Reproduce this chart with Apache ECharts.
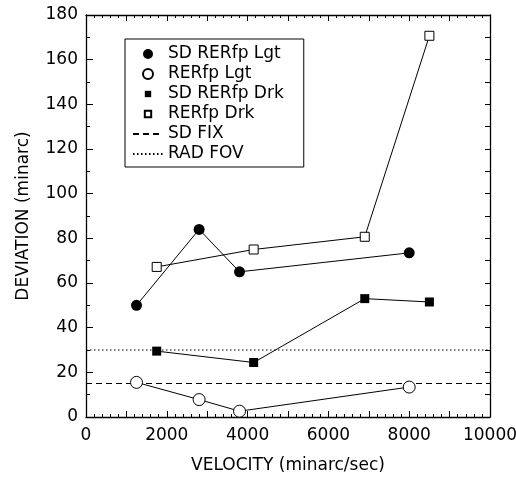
<!DOCTYPE html>
<html>
<head>
<meta charset="utf-8">
<script src="https://cdn.jsdelivr.net/npm/echarts@6/dist/echarts.min.js"></script>
<style>
html,body{margin:0;padding:0;background:#fff;}
#chart{width:516px;height:477px;}
</style>
</head>
<body>
<div id="chart"></div>
<script>
// ---- data ----
var sdRerfpLgtX = [1250, 2800, 3800, 8000];
var sdRerfpLgtY = [50, 84, 65, 73.5];
var rerfpLgtX = [1250, 2800, 3800, 8000];
var rerfpLgtY = [15.5, 7.8, 2.6, 13.4];
var sdRerfpDrkX = [1750, 4150, 6900, 8500];
var sdRerfpDrkY = [29.5, 24.4, 53, 51.5];
var rerfpDrkX = [1750, 4150, 6900, 8500];
var rerfpDrkY = [67.2, 75, 80.7, 170.7];
var sdFixY = 15;
var radFovY = 30;
var xRange = [0, 10000];
var yRange = [0, 180];
var xLabelStep = 2000;
var seriesNames = ['SD RERfp Lgt', 'RERfp Lgt', 'SD RERfp Drk', 'RERfp Drk', 'SD FIX', 'RAD FOV'];

function pairs(xs, ys) { return xs.map(function (x, i) { return [x, ys[i]]; }); }

var FONT = 'DejaVu Sans';
var chart = echarts.init(document.getElementById('chart'), null, {renderer: 'canvas'});
var sqIcon = 'path://M-2,-2L-2,-2M0,0L7,0L7,7L0,7ZM9,9L9,9';

var option = {
  animation: false,
  backgroundColor: '#fff',
  textStyle: {fontFamily: FONT, color: '#000'},
  grid: {left: 86, right: 26, top: 15, bottom: 60, containLabel: false, outerBoundsMode: 'none'},
  legend: {
    orient: 'vertical',
    left: 125, top: 39,
    padding: [5, 20, 3, 7],
    itemGap: 0,
    itemWidth: 30,
    itemHeight: 10,
    borderColor: '#000', borderWidth: 1,
    backgroundColor: '#fff',
    selectedMode: false,
    textStyle: {fontFamily: FONT, fontSize: 17, color: '#000', lineHeight: 20},
    data: [
      {name: seriesNames[0], icon: 'circle'},
      {name: seriesNames[1], icon: 'circle'},
      {name: seriesNames[2], icon: sqIcon},
      {name: seriesNames[3], icon: sqIcon},
      {name: seriesNames[4]},
      {name: seriesNames[5]}
    ]
  },
  xAxis: [{
    type: 'value', min: xRange[0], max: xRange[1], interval: 1000, position: 'bottom',
    name: 'VELOCITY (minarc/sec)', nameLocation: 'middle', nameGap: 40,
    nameTextStyle: {fontFamily: FONT, fontSize: 17, color: '#000'},
    axisLine: {show: true, onZero: false, lineStyle: {color: '#000', width: 1.3}},
    axisTick: {show: true, inside: true, length: 6, lineStyle: {color: '#000', width: 1}},
    minorTick: {show: true, splitNumber: 5, length: 3, lineStyle: {color: '#000', width: 1}},
    axisLabel: {margin: 10, fontFamily: FONT, fontSize: 17, color: '#000',
      formatter: function (v) { return v % xLabelStep === 0 ? String(v) : ''; }},
    splitLine: {show: false}
  }, {
    type: 'value', min: xRange[0], max: xRange[1], interval: 1000, position: 'top',
    axisLine: {show: true, onZero: false, lineStyle: {color: '#000', width: 1.3}},
    axisTick: {show: true, inside: true, length: 6, lineStyle: {color: '#000', width: 1}},
    minorTick: {show: true, splitNumber: 5, length: 3, lineStyle: {color: '#000', width: 1}},
    axisLabel: {show: false},
    splitLine: {show: false}
  }],
  yAxis: [{
    type: 'value', min: yRange[0], max: yRange[1], interval: 20, position: 'left',
    name: 'DEVIATION (minarc)', nameLocation: 'middle', nameGap: 54,
    nameTextStyle: {fontFamily: FONT, fontSize: 17, color: '#000'},
    axisLine: {show: true, onZero: false, lineStyle: {color: '#000', width: 1.3}},
    axisTick: {show: true, inside: true, length: 7, lineStyle: {color: '#000', width: 1}},
    minorTick: {show: true, splitNumber: 2, length: 4, lineStyle: {color: '#000', width: 1}},
    axisLabel: {margin: 8, fontFamily: FONT, fontSize: 17, color: '#000'},
    splitLine: {show: false}
  }, {
    type: 'value', min: yRange[0], max: yRange[1], interval: 10, position: 'right',
    axisLine: {show: true, onZero: false, lineStyle: {color: '#000', width: 1.3}},
    axisTick: {show: true, inside: true, length: 5, lineStyle: {color: '#000', width: 1}},
    axisLabel: {show: false},
    splitLine: {show: false}
  }],
  series: [
    {
      name: seriesNames[4], type: 'line', symbol: 'none', silent: true, z: 1,
      xAxisIndex: 1, yAxisIndex: 1,
      data: [[xRange[0], sdFixY], [xRange[1], sdFixY]],
      lineStyle: {color: '#000', width: 1, type: [6, 4]},
      itemStyle: {color: '#000', opacity: 0}
    },
    {
      name: seriesNames[5], type: 'line', symbol: 'none', silent: true, z: 1,
      xAxisIndex: 1, yAxisIndex: 1,
      data: [[xRange[0], radFovY], [xRange[1], radFovY]],
      lineStyle: {color: '#000', width: 1, type: [1.5, 2.5]},
      itemStyle: {color: '#000', opacity: 0}
    },
    {
      name: seriesNames[0], type: 'line', symbol: 'circle', symbolSize: 11, z: 3,
      data: pairs(sdRerfpLgtX, sdRerfpLgtY),
      lineStyle: {color: '#000', width: 1},
      itemStyle: {color: '#000', borderWidth: 0}
    },
    {
      name: seriesNames[1], type: 'line', symbol: 'circle', symbolSize: 12, z: 3,
      data: pairs(rerfpLgtX, rerfpLgtY),
      lineStyle: {color: '#000', width: 1},
      itemStyle: {color: '#fff', borderColor: '#000', borderWidth: 1}
    },
    {
      name: seriesNames[2], type: 'line', symbol: 'rect', symbolSize: 9, z: 3,
      data: pairs(sdRerfpDrkX, sdRerfpDrkY),
      lineStyle: {color: '#000', width: 1},
      itemStyle: {color: '#000', borderWidth: 0}
    },
    {
      name: seriesNames[3], type: 'line', symbol: 'rect', symbolSize: 9, z: 3,
      data: pairs(rerfpDrkX, rerfpDrkY),
      lineStyle: {color: '#000', width: 1},
      itemStyle: {color: '#fff', borderColor: '#000', borderWidth: 1}
    }
  ]
};
chart.setOption(option);
</script>
</body>
</html>
